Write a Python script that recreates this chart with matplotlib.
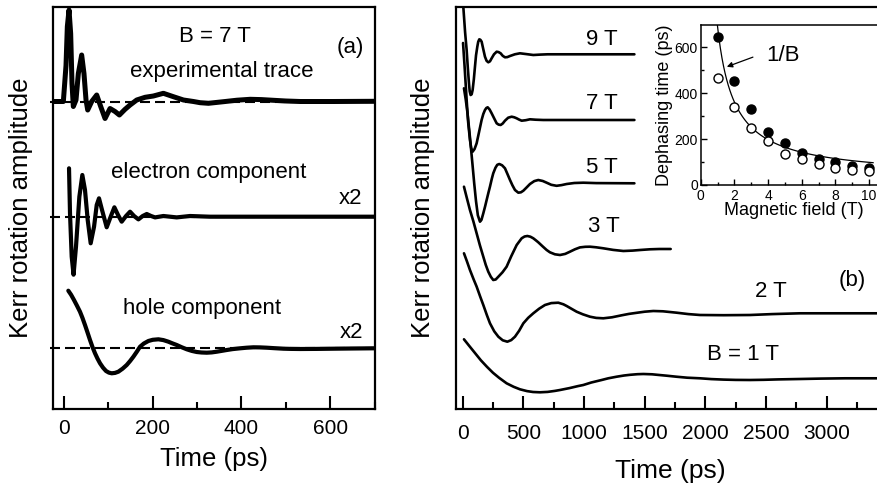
import matplotlib
matplotlib.use("Agg")
import matplotlib.pyplot as plt
from matplotlib.ticker import MultipleLocator, FixedLocator

plt.rcParams['font.family'] = ['Liberation Sans', 'DejaVu Sans']

# ---------------- panel (a): B = 7 T, decomposition ----------------
exp_t = [-32, -1.5, 4.5, 7.5, 11.3, 15, 18, 21, 27, 32.3, 39.8, 45, 49.6, 53.4, 62.4,
         73.7, 82.7, 92.5, 103.7, 115, 124.8, 137.6, 148.9, 163.9, 182.7, 201.5, 224,
         246.6, 269.2, 291.7, 306.8, 325.6, 359.4, 390, 419.6, 445, 472.2, 500, 532.4,
         607.5, 700]
exp_amp = [0, 0, 36, 75, 91.5, 68, 18, -5, 1.5, 28, 46.5, 28, 1.5, -8.5, 0,
           6.5, -5, -17, -7, -10, -13.5, -7.8, -3.5, 1.5, 4.2, 5.5, 8.2,
           4.8, 1.5, 0, -1.2, -1.8, -0.2, 1.3, 2.2, 1.9, 1.2, 0.5, 0,
           0, 0.2]

ele_t = [11.3, 13.5, 17.3, 21.5, 27, 34.6, 41.3, 47.3, 53.4, 60.1, 67.7, 73.7, 78.9,
         85.7, 96.2, 105.2, 113.5, 121.8, 130, 139.8, 148.9, 157.9, 167.7, 177.4,
         186.5, 196.2, 205.2, 224, 254, 284, 329, 700]
ele_amp = [48.4, 3.4, -40, -58, -30, 20, 41.7, 26.7, -3.3, -26.6, -10, 11.7, 18.4,
           6.7, -10.6, 0, 9.4, 1.7, -5, 0.7, 5, 0.7, -2.7, 0.7,
           2.7, 0.7, -0.7, 0.7, -0.7, 0.7, 0, 0]

hole_t = [9.7, 16, 22.5, 29, 36, 41.5, 47.3, 53, 58.6, 64, 69.9, 75.5, 81.2, 88, 94.7,
          101, 107.5, 115, 122.5, 132, 141.3, 149, 156.4, 164, 171.4, 180, 190.2, 200,
          212.8, 224, 235.3, 244, 254.1, 265, 276.7, 288, 299.2, 310, 321.8, 333,
          344.3, 355, 366.9, 380, 397, 412, 427, 442, 457, 475, 494.7, 512, 532.3,
          570, 607.5, 650, 700]
hole_amp = [57.6, 53.5, 48.3, 42.8, 36.6, 30.5, 23.3, 15.8, 8.3, 1.5, -5, -10.3, -15,
            -19.4, -22.7, -24.3, -25, -24.6, -23.4, -20.4, -16.7, -12.7, -8.4, -3.5,
            1.6, 4.8, 7.3, 8.5, 9, 8.2, 6.6, 5, 3.3, 1.1, -1, -2.6, -3.7, -4.2, -4.4,
            -4.1, -3.4, -2.6, -1.7, -0.8, 0, 0.6, 1, 0.9, 0.6, 0.1, -0.4, -0.6, -0.7,
            -0.6, -0.4, -0.2, 0]

a_offsets = [307.5, 192.3, 60.7]   # experimental, electron, hole baselines

# ---------------- panel (b): traces for several fields ----------------
b9_t = [0, 5.2, 20, 32.7, 42, 51.9, 58, 65.6, 74, 82, 92, 101.3, 110, 120.6, 128, 137,
        146, 156.3, 170, 183.7, 197, 211.2, 225, 238.7, 258, 280, 296, 312.8, 330,
        348.6, 368, 389.8, 430, 472, 525, 582, 640, 700, 1415]
b9_amp = [70, 47.6, 22, 4.3, -13, -29, -37, -40.7, -40, -35.7, -25, -12.4, -1, 7.6,
          12.5, 15, 14.5, 12.6, 5, -2.4, -6.5, -8, -7, -4, 0, 2.6, 2.2, 1, -1.5,
          -3, -2.8, -1.7, 0, 1, 0.2, -0.7, -0.3, 0, 0]

b7_t = [3, 15, 32.7, 45, 60, 70, 82, 98, 115, 135, 156, 170, 183.7, 195, 206, 222,
        238.7, 260, 280, 296, 312.8, 330, 348.6, 375, 403.5, 425, 444.7, 465, 486, 520,
        554.6, 600, 664, 1415]
b7_amp = [77, 55, 20, -2, -20, -28, -31.7, -29, -23.3, -12, 0, 6, 10, 12, 12.7, 10.5,
          6.7, 1.5, -3.3, -4.6, -5, -3.5, -0.7, 2.3, 3.3, 2.7, 1.7, 0.4, -0.7, -0.2,
          0.7, 0.3, 0, 0]

b5_t = [10.7, 25, 40, 60, 80, 95, 110, 125, 142.6, 155, 170, 185, 197.5, 212, 225, 240,
        252, 270, 285, 302, 325, 348.6, 370, 390, 410, 431, 458.5, 480, 500, 528, 554.6,
        590, 623, 660, 692, 730, 774, 815, 857, 920, 994, 1100, 1415]
b5_amp = [95, 84, 70, 46, 20, 0, -18, -32, -38.4, -36.5, -30, -23, -16.7, -9.5, -3.3,
          4.5, 10, 15.5, 18.5, 19.3, 18, 15, 9, 3.3, -2, -6.7, -9.4, -9, -7.4, -4, -0.7,
          2.2, 3.3, 2.3, 0.6, -1.5, -2.5, -1.8, -0.7, 0.3, 0.6, 0.2, 0]

b3_t = [10.7, 35, 60, 88, 115, 142, 170, 190, 211, 232, 252, 272, 294, 328, 362, 400,
        445, 486, 510, 533, 558, 582, 605, 623, 660, 692, 719, 760, 802, 845, 884, 925,
        966, 1010, 1049, 1100, 1159, 1240, 1324, 1400, 1461, 1543, 1620, 1714]
b3_amp = [62.6, 51, 39.3, 28, 16, 4, -7.4, -15.5, -22.4, -27.5, -30.7, -30.2, -27.4,
          -23, -17.4, -7, 4.3, 11, 12.8, 13.3, 12.6, 11, 8.8, 7, 2.8, -0.7, -3, -5,
          -5.7, -4.6, -2.4, 0, 1.9, 2.5, 2.6, 2, 1, -0.6, -1.7, -1.3, -0.7, 0, 0.3, 0.3]

b2_t = [10.7, 35, 60, 90, 115, 145, 170, 200, 225, 260, 294, 330, 368, 400, 431, 465,
        500, 540, 582, 630, 678, 730, 788, 830, 857, 900, 939, 990, 1049, 1100, 1159,
        1230, 1310, 1370, 1434, 1500, 1571, 1650, 1763, 1860, 1956, 2150, 2368, 2550,
        2780, 3480]
b2_amp = [60, 52, 43.3, 34, 26.7, 16.5, 8.3, -2, -10, -18, -23.4, -27, -28.4, -26.8,
          -23.4, -17.5, -10, -4.5, 0, 4.6, 8.3, 10.2, 10.6, 9, 7.3, 4.3, 1.6, -1, -3.4,
          -4.6, -5, -4, -2, -0.6, 0.5, 1.6, 2.3, 2, 0.6, -0.8, -1.7, -1.9, -1.7, -0.8,
          0, 0]

b1_t = [10.7, 50, 100, 150, 200, 250, 300, 362, 420, 472, 530, 580, 637, 700, 760, 802,
        880, 950, 994, 1060, 1145, 1200, 1269, 1330, 1380, 1440, 1489, 1560, 1620, 1681,
        1760, 1850, 1956, 2050, 2150, 2250, 2368, 2480, 2600, 2780, 2950, 3150, 3480]
b1_amp = [39, 33, 25.5, 18, 11.5, 5.5, 0.5, -5, -8.5, -11, -12.8, -13.7, -14, -13.6,
          -12.6, -11.7, -9.8, -7.8, -6.7, -4.2, -1.7, 0, 1.6, 2.8, 3.5, 4.1, 4.3, 4,
          3.3, 2.6, 1.6, 0.6, 0, -0.8, -1.3, -1.6, -1.7, -1.5, -1.1, -0.7, -0.3, 0, 0]

b_offsets = [354.7, 289, 225.7, 159.7, 95.7, 30.7]   # 9, 7, 5, 3, 2, 1 T

# ---------------- inset: dephasing time vs field ----------------
field = [1, 2, 3, 4, 5, 6, 7, 8, 9, 10]
tau_filled = [646, 454, 330, 232, 184, 141, 113, 99, 84, 75]
tau_open = [465, 341, 247, 192, 135, 112, 90, 75, 65, 62]
fit_a, fit_c = 657, 33          # tau = a / B + c
fit_B = [0.985 + i * 0.0925 for i in range(101)]

# ---------------- figure ----------------
fig = plt.figure(figsize=(8.77, 4.88), dpi=100)
W, H = 877, 488

def px_axes(x0, y0, x1, y1):
    return fig.add_axes([x0 / W, 1 - y1 / H, (x1 - x0) / W, (y1 - y0) / H])

def style_time_axis(ax, major, minor):
    ax.xaxis.set_major_locator(MultipleLocator(major))
    ax.xaxis.set_minor_locator(MultipleLocator(minor))
    ax.tick_params(axis='x', which='major', direction='in', length=9.5, width=1.5,
                   labelsize=15, pad=7)
    ax.tick_params(axis='x', which='minor', direction='in', length=5, width=1.5)
    ax.set_yticks([])
    for s in ax.spines.values():
        s.set_linewidth(1.6)

line_kw = dict(color='black', solid_joinstyle='round', solid_capstyle='round')

# panel (a)
axa = px_axes(52.7, 7, 375, 409)
axa.set_xlim(-25.5, 701)
axa.set_ylim(0, 402)
style_time_axis(axa, 200, 100)
for off in a_offsets:
    axa.plot([-32, 700], [off, off], color='black', lw=1.5, dashes=(4.8, 2.4),
             clip_on=False)
axa.plot(exp_t, [a + a_offsets[0] for a in exp_amp], lw=3.6, **line_kw)
axa.plot(ele_t, [a + a_offsets[1] for a in ele_amp], lw=3.0, **line_kw)
axa.plot(hole_t, [a + a_offsets[2] for a in hole_amp], lw=3.0, **line_kw)
fs = 16
axa.text(340, 367, 'B = 7 T', ha='center', fontsize=fs)
axa.text(645, 356, '(a)', ha='center', fontsize=fs)
axa.text(356, 332, 'experimental trace', ha='center', fontsize=fs)
axa.text(327, 231, 'electron component', ha='center', fontsize=fs)
axa.text(645, 205, 'x2', ha='center', fontsize=fs)
axa.text(312, 95, 'hole component', ha='center', fontsize=fs)
axa.text(649, 71, 'x2', ha='center', fontsize=fs)
axa.set_xlabel('Time (ps)', fontsize=18.5, labelpad=7)
axa.set_ylabel('Kerr rotation amplitude', fontsize=18.5, labelpad=14)

# panel (b)
axb = px_axes(456, 7, 885, 409)
axb.set_xlim(-55, 3480)
axb.set_ylim(0, 402)
style_time_axis(axb, 500, 250)
axb.xaxis.set_major_locator(FixedLocator([0, 500, 1000, 1500, 2000, 2500, 3000]))
axb.tick_params(axis='x', which='major', pad=11)
axb.spines['right'].set_visible(False)
b_series = [(b9_t, b9_amp), (b7_t, b7_amp), (b5_t, b5_amp),
            (b3_t, b3_amp), (b2_t, b2_amp), (b1_t, b1_amp)]
for (tt, aa), off in zip(b_series, b_offsets):
    axb.plot(tt, [a + off for a in aa], lw=1.9, **line_kw)
axb.text(1145, 364, '9 T', ha='center', fontsize=fs)
axb.text(1145, 300, '7 T', ha='center', fontsize=fs)
axb.text(1145, 236, '5 T', ha='center', fontsize=fs)
axb.text(1165, 177, '3 T', ha='center', fontsize=fs)
axb.text(2538, 112, '2 T', ha='center', fontsize=fs)
axb.text(2313, 49, 'B = 1 T', ha='center', fontsize=fs)
axb.text(3212, 123, '(b)', ha='center', fontsize=fs)
axb.set_xlabel('Time (ps)', fontsize=19, labelpad=11)
axb.set_ylabel('Kerr rotation amplitude', fontsize=18.5, labelpad=15)

# inset
axi = px_axes(700.7, 25, 886, 185)
axi.set_xlim(0, 11)
axi.set_ylim(0, 697)
axi.xaxis.set_major_locator(FixedLocator([0, 2, 4, 6, 8, 10]))
axi.xaxis.set_minor_locator(FixedLocator([1, 3, 5, 7, 9]))
axi.yaxis.set_major_locator(MultipleLocator(200))
axi.yaxis.set_minor_locator(MultipleLocator(100))
axi.tick_params(which='major', direction='in', length=4, width=1, labelsize=10, pad=2)
axi.tick_params(axis='x', which='major', pad=3)
axi.tick_params(which='minor', direction='in', length=2.5, width=1)
for s in axi.spines.values():
    s.set_linewidth(1.1)
axi.plot(fit_B, [fit_a / b + fit_c for b in fit_B], color='black', lw=0.9)
axi.plot(field, tau_filled, 'o', color='black', ms=6.5)
axi.plot(field, tau_open, 'o', mfc='white', mec='black', mew=1.0, ms=6.5)
axi.annotate('', xy=(1.55, 515), xytext=(3.1, 557),
             arrowprops=dict(arrowstyle='-|>', color='black', lw=0.9,
                             mutation_scale=8, shrinkA=0, shrinkB=0))
axi.text(4.9, 566, '1/B', ha='center', va='center', fontsize=16)
axi.set_xlabel('Magnetic field (T)', fontsize=13, labelpad=-1)
axi.set_ylabel('Dephasing time (ps)', fontsize=13, labelpad=1)

fig.savefig('out.png', dpi=100)
